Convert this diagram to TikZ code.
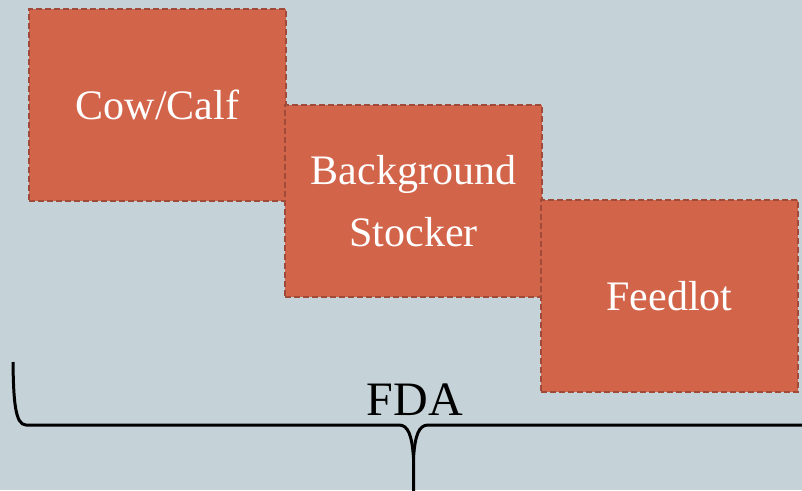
\documentclass[tikz,border=0pt]{standalone}
\usepackage{fontspec}
\setmainfont{Liberation Serif}
\definecolor{bgc}{HTML}{C5D2D8}
\definecolor{boxfill}{HTML}{D2644A}
\definecolor{boxline}{HTML}{A04B3A}
\tikzset{
  stagebox/.style={draw=boxline, fill=boxfill, line width=2.4pt, dash pattern=on 6pt off 3pt,
    minimum width=257pt, minimum height=192pt, inner sep=0pt, outer sep=0pt,
    text=white, align=center, font=\fontsize{42}{62}\selectfont},
  bracepath/.style={draw=black, line width=3pt, line cap=butt, line join=round},
}
\begin{document}
\begin{tikzpicture}[x=1pt,y=-1pt]
\fill[bgc] (0,0) rectangle (802,490);
\useasboundingbox (0,0) rectangle (802,490);
\node[stagebox] (cow) at (157.5,105) {Cow/Calf};
\node[stagebox] (stock) at (413.5,201) {Background\\Stocker};
\node[stagebox] (feed) at (669.5,296) {Feedlot};
\node[anchor=base, inner sep=0pt, font=\fontsize{48}{56}\selectfont] (fda) at (415,415) {FDA};
\draw[bracepath] (13,362) .. controls (13.5,400) and (15,425) .. (26,425)
  -- (399,425) .. controls (408,425) and (412,435) .. (413.5,458) -- (413.5,495);
\draw[bracepath] (810,425) -- (428,425) .. controls (419,425) and (415,435) .. (413.5,458);
\end{tikzpicture}
\end{document}
